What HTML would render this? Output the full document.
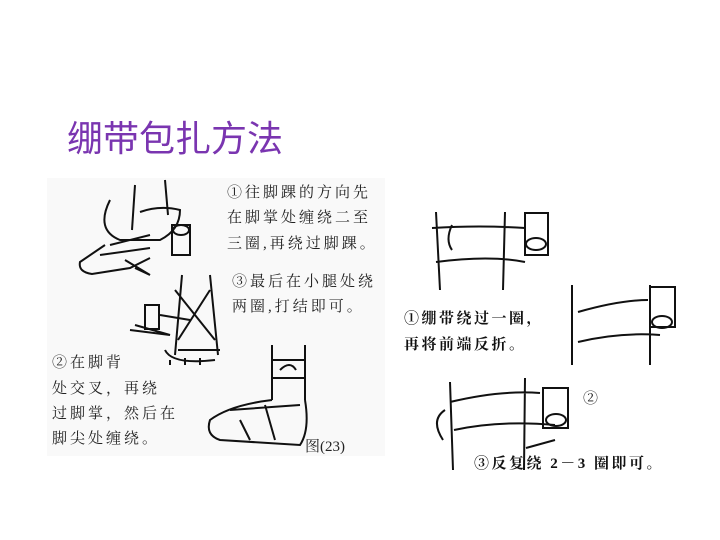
<!DOCTYPE html>
<html><head><meta charset="utf-8"><style>
body{margin:0;width:720px;height:540px;background:#fff;position:relative;overflow:hidden;font-family:"Liberation Serif","Noto Serif CJK SC",serif}
.t{position:absolute;white-space:nowrap;color:#222;font-size:15px;letter-spacing:3px}
.r{position:absolute;white-space:nowrap;color:#111;font-size:15px;font-weight:bold;letter-spacing:2.5px}
</style></head><body>
<div style="position:absolute;left:67px;top:110px;font-size:36px;color:#7a35b0;font-family:'Liberation Sans','Noto Sans CJK SC',sans-serif">绷带包扎方法</div>
<div style="position:absolute;left:47px;top:178px;width:338px;height:278px;background:#f9f9f9"></div>
<svg style="position:absolute;left:0;top:0" width="720" height="540" fill="none" stroke="#111" stroke-width="2">
<path d="M135 185 L132 230 M165 180 L168 215 M110 200 Q95 230 120 240 L160 240 Q180 230 180 210 Q160 205 140 212"/>
<path d="M105 245 L80 262 Q78 272 92 274 L130 268 L150 258 M110 245 L150 235 M100 255 L150 248"/>
<rect x="172" y="225" width="18" height="30"/><ellipse cx="181" cy="230" rx="8" ry="5"/>
<path d="M125 260 L150 275 L135 268"/>
<path d="M182 275 L175 355 M210 275 L218 355 M175 290 L215 340 M210 290 L178 340 M178 350 L220 350"/>
<path d="M165 350 Q172 365 215 360 M170 360 L170 365 M185 358 L185 365 M200 358 L200 365"/>
<rect x="145" y="305" width="14" height="24"/><path d="M160 315 L190 320 M130 330 L170 335 L135 325"/>
<path d="M272 345 L272 400 M305 345 L305 400 M272 360 L305 360 M272 378 L305 378 M280 370 Q290 360 296 370"/>
<path d="M272 400 Q230 405 210 420 Q205 435 220 440 L300 445 Q310 430 305 400 M230 410 L300 405 M240 420 L250 440 M265 405 L275 440"/>
<path d="M436 212 L440 290 M505 212 L503 290 M432 228 Q480 225 525 228 M436 262 Q490 255 525 262"/>
<rect x="525" y="213" width="23" height="42"/><ellipse cx="536" cy="244" rx="10" ry="6"/>
<path d="M452 225 Q445 240 452 250"/>
<path d="M572 285 L572 365 M650 285 L650 365 M578 312 Q620 300 648 300 M578 342 Q620 332 660 335"/>
<rect x="650" y="287" width="25" height="40"/><ellipse cx="662" cy="322" rx="10" ry="6"/>
<path d="M450 382 L453 470 M525 378 L524 470 M450 402 Q500 390 540 393 M454 430 Q500 420 555 425"/>
<rect x="543" y="388" width="25" height="40"/><ellipse cx="556" cy="420" rx="10" ry="6"/>
<path d="M443 440 Q430 420 445 410 M526 448 L555 440"/>
</svg>
<div class="t" style="left:227px;top:181px">①往脚踝的方向先</div>
<div class="t" style="left:227px;top:206px">在脚掌处缠绕二至</div>
<div class="t" style="left:227px;top:232px">三圈,再绕过脚踝。</div>
<div class="t" style="left:232px;top:270px">③最后在小腿处绕</div>
<div class="t" style="left:232px;top:295px">两圈,打结即可。</div>
<div class="t" style="left:52px;top:351px">②在脚背</div>
<div class="t" style="left:52px;top:377px">处交叉，再绕</div>
<div class="t" style="left:52px;top:402px">过脚掌，然后在</div>
<div class="t" style="left:52px;top:427px">脚尖处缠绕。</div>
<div class="t" style="left:305px;top:435px;letter-spacing:0">图(23)</div>
<div class="r" style="left:404px;top:307px">①绷带绕过一圈，</div>
<div class="r" style="left:404px;top:333px">再将前端反折。</div>
<div class="r" style="left:583px;top:387px;font-weight:normal">②</div>
<div class="r" style="left:474px;top:452px">③反复绕 2－3 圈即可。</div>
</body></html>
